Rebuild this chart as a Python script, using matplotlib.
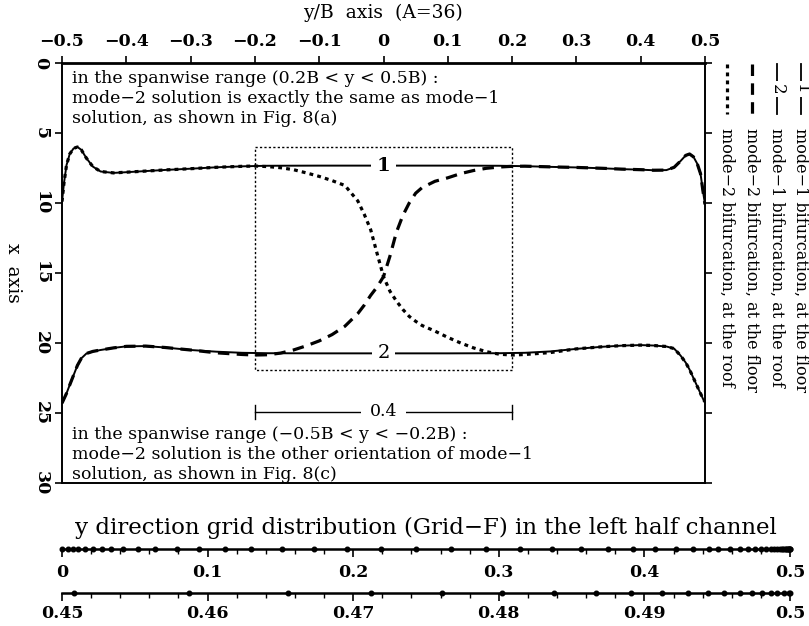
import matplotlib
matplotlib.use('Agg')
import matplotlib.pyplot as plt
from matplotlib.lines import Line2D
import numpy as np

plt.rcParams['font.family'] = ['DejaVu Serif']
plt.rcParams['axes.unicode_minus'] = True

W, H = 809, 626

# ---------------- data ----------------
y_m1 = [-0.5, -0.497, -0.493, -0.488, -0.482, -0.476, -0.47, -0.462, -0.452, -0.44,
        -0.42, -0.4, -0.37, -0.34, -0.3, -0.26, -0.22, -0.18, -0.1, 0.0,
        0.1, 0.18, 0.22, 0.26, 0.3, 0.34, 0.37, 0.4, 0.42, 0.44,
        0.452, 0.462, 0.47, 0.476, 0.482, 0.488, 0.493, 0.497, 0.5]
x_m1_floor = [9.9, 8.6, 7.3, 6.5, 6.1, 6.0, 6.2, 6.8, 7.4, 7.75,
              7.85, 7.8, 7.72, 7.64, 7.55, 7.45, 7.38, 7.34, 7.33, 7.33,
              7.33, 7.34, 7.37, 7.42, 7.46, 7.52, 7.58, 7.62, 7.66, 7.65,
              7.45, 7.0, 6.6, 6.5, 6.7, 7.2, 7.9, 9.2, 10.1]
x_m1_roof = [24.3, 24.0, 23.6, 23.0, 22.3, 21.6, 21.1, 20.75, 20.6, 20.5,
             20.35, 20.24, 20.22, 20.32, 20.5, 20.62, 20.7, 20.73, 20.74, 20.74,
             20.74, 20.73, 20.7, 20.6, 20.42, 20.27, 20.19, 20.15, 20.18, 20.25,
             20.4, 20.9, 21.4, 21.9, 22.5, 23.1, 23.6, 24.0, 24.2]

y_m2 = [-0.5, -0.497, -0.493, -0.488, -0.482, -0.476, -0.47, -0.462, -0.452, -0.44,
        -0.42, -0.4, -0.37, -0.34, -0.3, -0.26, -0.22, -0.2, -0.18, -0.16,
        -0.14, -0.12, -0.1, -0.08, -0.06, -0.04, -0.03, -0.02, -0.01, 0.0,
        0.01, 0.02, 0.03, 0.04, 0.05, 0.06, 0.08, 0.1, 0.12, 0.14,
        0.16, 0.18, 0.2, 0.22, 0.26, 0.3, 0.34, 0.37, 0.4, 0.42,
        0.44, 0.452, 0.462, 0.47, 0.476, 0.482, 0.488, 0.493, 0.497, 0.5]
x_m2_floor = [24.3, 24.0, 23.6, 23.0, 22.3, 21.6, 21.1, 20.75, 20.6, 20.5,
              20.35, 20.24, 20.22, 20.32, 20.5, 20.7, 20.82, 20.86, 20.84, 20.72,
              20.5, 20.2, 19.85, 19.4, 18.8, 17.9, 17.3, 16.6, 16.0, 15.26,
              13.8, 12.1, 10.9, 10.0, 9.3, 8.9, 8.45, 8.2, 7.9, 7.68,
              7.52, 7.43, 7.38, 7.37, 7.42, 7.46, 7.52, 7.58, 7.62, 7.66,
              7.65, 7.45, 7.0, 6.6, 6.5, 6.7, 7.2, 7.9, 9.2, 10.1]
x_m2_roof = [9.9, 8.6, 7.3, 6.5, 6.1, 6.0, 6.2, 6.8, 7.4, 7.75,
             7.85, 7.8, 7.72, 7.64, 7.55, 7.45, 7.38, 7.36, 7.4, 7.48,
             7.62, 7.85, 8.1, 8.4, 8.75, 9.85, 10.8, 11.9, 13.6, 15.26,
             16.3, 17.0, 17.6, 18.1, 18.45, 18.75, 19.15, 19.6, 20.0, 20.35,
             20.62, 20.8, 20.86, 20.82, 20.68, 20.42, 20.27, 20.19, 20.15, 20.18,
             20.25, 20.4, 20.9, 21.4, 21.9, 22.5, 23.1, 23.6, 24.0, 24.2]

ytick_vals = [-0.5, -0.4, -0.3, -0.2, -0.1, 0, 0.1, 0.2, 0.3, 0.4, 0.5]
ytick_labels = ['\u22120.5', '\u22120.4', '\u22120.3', '\u22120.2', '\u22120.1', '0',
                '0.1', '0.2', '0.3', '0.4', '0.5']
xtick_vals = [0, 5, 10, 15, 20, 25, 30]
xtick_labels = ['0', '5', '10', '15', '20', '25', '30']

box_y = [-0.2, 0.2]
box_x = [6.0, 21.9]
span_label = '0.4'
span_x = 24.9

grid_pts = [0.0, 0.0043, 0.0078, 0.011, 0.016, 0.0216, 0.0272, 0.0337, 0.042, 0.0525,
            0.064, 0.079, 0.094, 0.112, 0.130, 0.151, 0.173, 0.196, 0.219, 0.243,
            0.2675, 0.291, 0.3144, 0.3364, 0.3563, 0.3753, 0.3923, 0.4074, 0.4216, 0.4331,
            0.4441, 0.4508, 0.4587, 0.4655, 0.4712, 0.4761, 0.4802, 0.4838, 0.4867, 0.4891,
            0.4912, 0.4930, 0.4944, 0.4955, 0.4966, 0.4974, 0.4981, 0.4987, 0.4991, 0.4996,
            0.4999, 0.5]
row1_ticks = [0, 0.1, 0.2, 0.3, 0.4, 0.5]
row1_labels = ['0', '0.1', '0.2', '0.3', '0.4', '0.5']
row2_ticks = [0.45, 0.46, 0.47, 0.48, 0.49, 0.5]
row2_labels = ['0.45', '0.46', '0.47', '0.48', '0.49', '0.5']

legend_texts = ['mode\u22121 bifurcation, at the floor',
                'mode\u22121 bifurcation, at the roof',
                'mode\u22122 bifurcation, at the floor',
                'mode\u22122 bifurcation, at the roof']

top_note = ('in the spanwise range (0.2B < y < 0.5B) :\n'
            'mode\u22122 solution is exactly the same as mode\u22121\n'
            'solution, as shown in Fig. 8(a)')
bot_note = ('in the spanwise range (\u22120.5B < y < \u22120.2B) :\n'
            'mode\u22122 solution is the other orientation of mode\u22121\n'
            'solution, as shown in Fig. 8(c)')

# ---------------- figure ----------------
fig = plt.figure(figsize=(W / 100, H / 100), dpi=100)


def fx(px):
    return px / W


def fy(py):
    return 1 - py / H


FS = 12.5
TFS = 12.5
ax = fig.add_axes([fx(62), fy(483), fx(705) - fx(62), fy(63) - fy(483)])
ax.set_xlim(-0.5, 0.5)
ax.set_ylim(30, 0)
for s in ax.spines.values():
    s.set_linewidth(1.4)
ax.spines['top'].set_linewidth(2.0)

ax.xaxis.set_ticks_position('top')
ax.set_xticks(ytick_vals)
ax.set_xticklabels(ytick_labels, fontsize=TFS, fontweight='bold')
ax.tick_params(axis='x', direction='out', length=5, width=1.2, pad=4, top=True, bottom=False)
ax.set_yticks(xtick_vals)
ax.set_yticklabels(xtick_labels, fontsize=TFS, fontweight='bold', rotation=-90,
                   va='center', ha='right')
ax.tick_params(axis='y', direction='out', length=5, width=1.2, pad=4,
               left=True, right=True, labelright=False)

# curves
ax.plot(y_m1, x_m1_floor, color='black', lw=1.4, solid_joinstyle='round')
ax.plot(y_m1, x_m1_roof, color='black', lw=1.4, solid_joinstyle='round')
ax.plot(y_m2, x_m2_floor, color='black', lw=2.3, dashes=(3.6, 2.3))
ax.plot(y_m2, x_m2_roof, color='black', lw=2.3, dashes=(1.2, 1.3))

# box
ax.plot([box_y[0], box_y[1], box_y[1], box_y[0], box_y[0]],
        [box_x[0], box_x[0], box_x[1], box_x[1], box_x[0]],
        color='black', lw=1.0, dashes=(1.6, 1.6))

# curve labels
ax.text(0, 7.33, '1', fontsize=14, fontweight='bold', ha='center', va='center',
        bbox=dict(facecolor='white', edgecolor='none', pad=4))
ax.text(0, 20.74, '2', fontsize=14, ha='center', va='center',
        bbox=dict(facecolor='white', edgecolor='none', pad=4))

# span dimension
ax.plot(box_y, [span_x, span_x], color='black', lw=1.0)
ax.plot([box_y[0], box_y[0]], [span_x - 0.5, span_x + 0.5], color='black', lw=1.0)
ax.plot([box_y[1], box_y[1]], [span_x - 0.5, span_x + 0.5], color='black', lw=1.0)
ax.text(0, span_x, span_label, fontsize=FS, ha='center', va='center',
        bbox=dict(facecolor='white', edgecolor='none', pad=6))

# notes
fig.text(fx(72), fy(70), top_note, fontsize=FS, ha='left', va='top', linespacing=1.22)
fig.text(fx(72), fy(426), bot_note, fontsize=FS, ha='left', va='top', linespacing=1.22)

# axis titles
fig.text(fx(383), fy(13), 'y/B  axis  (A=36)', fontsize=13.5, ha='center', va='center')
fig.text(fx(13), fy(273), 'x  axis', fontsize=13.5, ha='center', va='center', rotation=-90)

# legend (rotated)
leg_x = [801, 777, 752, 727]
styles = [dict(ls='-'), dict(ls='-'), dict(dashes=(3.6, 2.3)), dict(dashes=(1.2, 1.3))]
marks = ['1', '2', None, None]
for lx, txt, st, mk in zip(leg_x, legend_texts, styles, marks):
    lw = 1.3 if mk else 2.3
    fig.add_artist(Line2D([fx(lx), fx(lx)], [fy(64), fy(114)], color='black', lw=lw,
                          transform=fig.transFigure, **st))
    if mk:
        fig.text(fx(lx), fy(89), mk, fontsize=12, ha='center', va='center', rotation=-90,
                 bbox=dict(facecolor='white', edgecolor='none', pad=2))
    fig.text(fx(lx), fy(128), txt, fontsize=11.5, ha='center', va='top', rotation=-90)

# grid distribution
fig.text(fx(426), fy(528), 'y direction grid distribution (Grid\u2212F) in the left half channel',
         fontsize=16.5, ha='center', va='center')


def grid_row(ypix, lo, hi, majors, labels, minor_step, pts, pad):
    a = fig.add_axes([fx(62), fy(ypix), fx(790) - fx(62), 0.02])
    a.set_xlim(lo, hi)
    a.set_ylim(0, 1)
    for k in ['top', 'left', 'right']:
        a.spines[k].set_visible(False)
    a.spines['bottom'].set_linewidth(1.8)
    a.set_yticks([])
    a.set_xticks(majors)
    a.set_xticklabels(labels, fontsize=TFS, fontweight='bold')
    a.set_xticks(np.arange(lo, hi + 1e-9, minor_step), minor=True)
    a.tick_params(axis='x', which='major', direction='out', length=6, width=1.2, pad=pad)
    a.tick_params(axis='x', which='minor', direction='out', length=3.5, width=1.0)
    sel = [p for p in pts if lo - 1e-9 <= p <= hi + 1e-9]
    a.plot(sel, [0] * len(sel), 'o', color='black', ms=3.3, clip_on=False)
    a.patch.set_alpha(0)
    return a


grid_row(549, 0.0, 0.5, row1_ticks, row1_labels, 0.02, grid_pts, 5)
grid_row(593, 0.45, 0.5, row2_ticks, row2_labels, 0.002, grid_pts, 3)

fig.savefig('out.png', dpi=100)
